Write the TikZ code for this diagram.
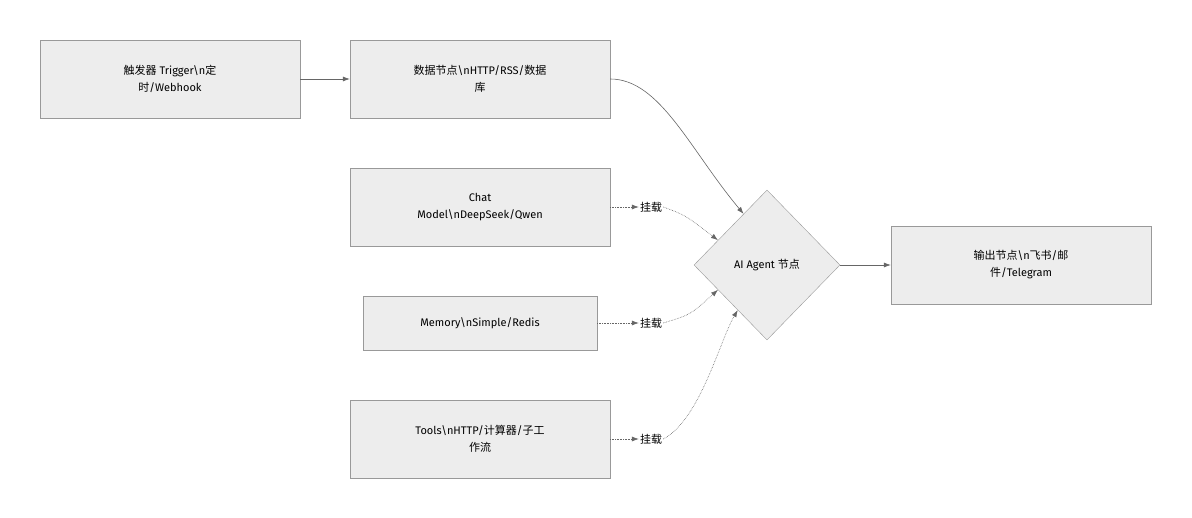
\documentclass[tikz,border=0pt]{standalone}
\usepackage{fontspec}
\setmainfont{Fira Sans}
\newfontfamily\cjk{Noto Sans CJK SC}
\usetikzlibrary{shapes.geometric,arrows.meta,calc}
\begin{document}
\begin{tikzpicture}[x=1pt,y=-1pt,
  box/.style={draw=black!40,fill=black!7,align=center,font=\fontsize{11}{17}\selectfont,inner sep=0},
  lab/.style={font=\fontsize{11}{14}\selectfont,inner sep=1pt,fill=white},
  arr/.style={draw=black!60,-{Latex[length=7pt,width=5pt]},line width=0.6pt},
  dot/.style={arr,densely dotted}]
\useasboundingbox (0,0) rectangle (1192,518);
\node[box,minimum width=260pt,minimum height=78pt] (trig) at (170,79) {{\cjk 触发器} Trigger\textbackslash n{\cjk 定}\\{\cjk 时}/Webhook};
\node[box,minimum width=260pt,minimum height=78pt] (data) at (480,79) {{\cjk 数据节点}\textbackslash nHTTP/RSS/{\cjk 数据}\\{\cjk 库}};
\node[box,minimum width=260pt,minimum height=78pt] (chat) at (480,207) {Chat\\Model\textbackslash nDeepSeek/Qwen};
\node[box,minimum width=234pt,minimum height=54pt] (mem) at (480,323) {Memory\textbackslash nSimple/Redis};
\node[box,minimum width=260pt,minimum height=78pt] (tools) at (480,439) {Tools\textbackslash nHTTP/{\cjk 计算器}/{\cjk 子工}\\{\cjk 作流}};
\node[box,diamond,minimum width=146pt,minimum height=150pt] (dia) at (767,265) {AI Agent {\cjk 节点}};
\node[box,minimum width=260pt,minimum height=78pt] (out) at (1021,265) {{\cjk 输出节点}\textbackslash n{\cjk 飞书}/{\cjk 邮}\\{\cjk 件}/Telegram};
\node[lab] (l1) at (651,207) {\cjk 挂载};
\node[lab] (l2) at (651,323) {\cjk 挂载};
\node[lab] (l3) at (651,439) {\cjk 挂载};
\coordinate (p0) at ($(dia.west)!0.68!(dia.north)$);
\coordinate (p1) at ($(dia.west)!0.33!(dia.north)$);
\coordinate (p2) at ($(dia.west)!0.33!(dia.south)$);
\coordinate (p3) at ($(dia.west)!0.6!(dia.south)$);
\draw[arr] (trig) -- (data);
\draw[arr] (data.east) .. controls (660,79) and (690,150) .. (p0);
\draw[dot] (chat.east) -- (l1.west);
\draw[dot] (l1.east) .. controls (685,215) .. (p1);
\draw[dot] (mem.east) -- (l2.west);
\draw[dot] (l2.east) .. controls (690,315) .. (p2);
\draw[dot] (tools.east) -- (l3.west);
\draw[dot] (l3.east) .. controls (700,420) and (720,340) .. (p3);
\draw[arr] (dia) -- (out);
\end{tikzpicture}
\end{document}
